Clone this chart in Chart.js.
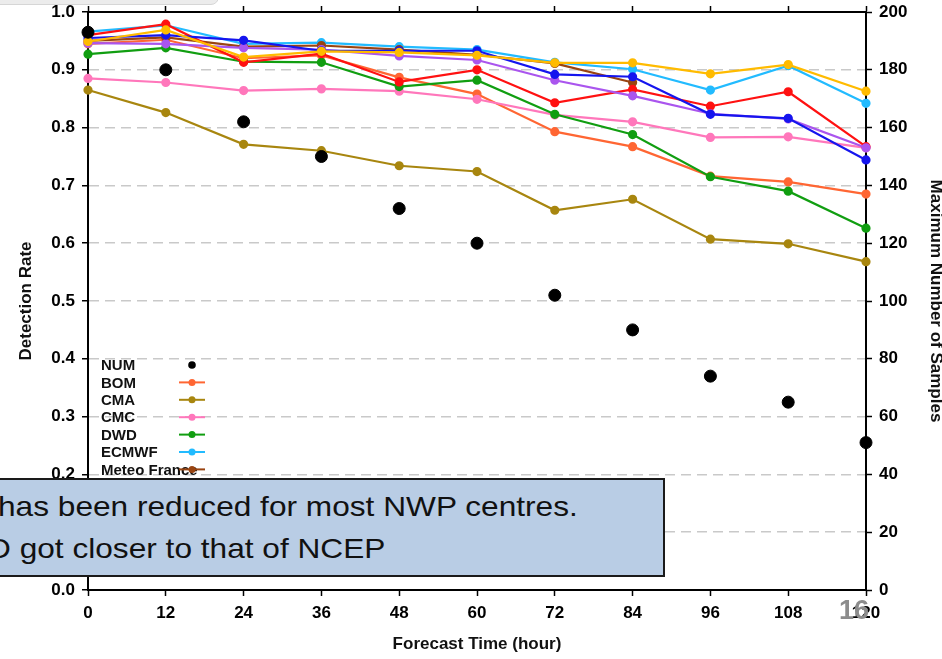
<!DOCTYPE html>
<html>
<head>
<meta charset="utf-8">
<script src="https://cdn.jsdelivr.net/npm/chart.js@4.4.1/dist/chart.umd.min.js"></script>
<style>
  html, body { margin: 0; padding: 0; background: #ffffff; }
  #wrap { position: relative; width: 942px; height: 659px; overflow: hidden; background: #ffffff; }
  #chart { position: absolute; left: 0; top: 0; }
  .topbar { position: absolute; left: -10px; top: -9px; width: 227px; height: 12px;
            background: #ececec; border: 1px solid #d6d6d6; border-radius: 0 0 8px 0; }
  .note { position: absolute; left: -20px; top: 478px; width: 681px; height: 95px;
          background: #b9cde5; border: 2px solid #1a1a1a; }
  .note span { position: absolute; white-space: nowrap; font-family: "Liberation Sans", Arial, sans-serif;
               font-size: 28px; color: #111; transform: scaleX(1.13); transform-origin: 0 0; line-height: 1; }
  .pageno { position: absolute; left: 839px; top: 597px; font-family: "Liberation Sans", Arial, sans-serif;
            font-weight: bold; font-size: 27px; color: #8c8c8c; line-height: 1; }
</style>
</head>
<body>
<div id="wrap">
  <canvas id="chart" width="942" height="659"></canvas>
  <div class="topbar"></div>
  <div class="note">
    <span style="left:16px; top:13px;">has been reduced for most NWP centres.</span>
    <span style="left:6px; top:55px;">D got closer to that of NCEP</span>
  </div>
  <div class="pageno">16</div>
</div>
<script>
// Forecast lead times (hours)
const hours = ['0', '12', '24', '36', '48', '60', '72', '84', '96', '108', '120'];

// Number of verified samples at each lead time (right axis)
const numSamples = [193, 180, 162, 150, 132, 120, 102, 90, 74, 65, 51];

// Detection rate per NWP centre (left axis)
const bom         = [0.945, 0.952, 0.920, 0.925, 0.887, 0.858, 0.793, 0.767, 0.716, 0.706, 0.685];
const cma         = [0.865, 0.826, 0.771, 0.760, 0.734, 0.724, 0.657, 0.676, 0.607, 0.599, 0.568];
const cmc         = [0.885, 0.878, 0.864, 0.867, 0.863, 0.849, 0.822, 0.810, 0.783, 0.784, 0.765];
const dwd         = [0.927, 0.938, 0.914, 0.913, 0.871, 0.882, 0.823, 0.788, 0.715, 0.690, 0.626];
const ecmwf       = [0.966, 0.977, 0.945, 0.947, 0.940, 0.935, 0.913, 0.901, 0.865, 0.907, 0.842];
const meteoFrance = [0.950, 0.956, 0.940, 0.942, 0.935, 0.926, 0.911, 0.878, null, null, null];
const jma         = [0.960, 0.979, 0.913, 0.928, 0.879, 0.900, 0.843, 0.866, 0.837, 0.862, 0.767];
const kma         = [0.946, 0.945, 0.938, 0.935, 0.924, 0.917, 0.882, 0.855, 0.824, 0.815, 0.765];
const ncep        = [0.955, 0.960, 0.951, 0.933, 0.933, 0.933, 0.892, 0.888, 0.823, 0.816, 0.744];
const ukmo        = [0.949, 0.969, 0.922, 0.932, 0.930, 0.925, 0.912, 0.912, 0.893, 0.909, 0.863];

// Axis tick ranges
const rateTicks = { min: 0, max: 1, step: 0.1 };
const sampleTicks = { min: 0, max: 200, step: 20 };

const FONT = '"Liberation Sans", Arial, Helvetica, sans-serif';

const centres = [
  { label: 'BOM',          data: bom,         color: '#ff6633' },
  { label: 'CMA',          data: cma,         color: '#a8860f' },
  { label: 'CMC',          data: cmc,         color: '#ff77bb' },
  { label: 'DWD',          data: dwd,         color: '#119e11' },
  { label: 'ECMWF',        data: ecmwf,       color: '#22bbff' },
  { label: 'Meteo France', data: meteoFrance, color: '#994411' },
  { label: 'JMA',          data: jma,         color: '#ff1111' },
  { label: 'KMA',          data: kma,         color: '#aa55ee' },
  { label: 'NCEP',         data: ncep,        color: '#1515ee' },
  { label: 'UKMO',         data: ukmo,        color: '#ffbb00' }
];

const datasets = [
  {
    label: 'NUM',
    data: numSamples,
    yAxisID: 'y2',
    showLine: false,
    pointRadius: 6,
    pointBackgroundColor: '#000',
    pointBorderColor: '#000',
    borderColor: '#000',
    backgroundColor: '#000',
    order: 0
  }
].concat(centres.map((c, i) => ({
  label: c.label,
  data: c.data,
  yAxisID: 'y',
  borderColor: c.color,
  backgroundColor: c.color,
  pointBackgroundColor: c.color,
  pointBorderColor: c.color,
  pointRadius: 3.5,
  borderWidth: 2.2,
  tension: 0,
  spanGaps: false,
  order: centres.length - i
})));

// Legend drawn inside the plot area, lower left
const insideLegend = {
  id: 'insideLegend',
  afterDatasetsDraw(chart) {
    const ctx = chart.ctx;
    const area = chart.chartArea;
    const x0 = area.left + 13;
    const y0 = area.top + 353;
    const rowH = 17.4;
    const mx = area.left + 104;
    ctx.save();
    ctx.font = 'bold 15px ' + FONT;
    ctx.textBaseline = 'middle';
    ctx.textAlign = 'left';
    chart.data.datasets.forEach((ds, i) => {
      const y = y0 + i * rowH;
      ctx.fillStyle = '#111';
      ctx.fillText(ds.label, x0, y + 1);
      if (ds.showLine === false) {
        ctx.fillStyle = '#000';
        ctx.beginPath();
        ctx.arc(mx, y, 3.8, 0, Math.PI * 2);
        ctx.fill();
      } else {
        ctx.strokeStyle = ds.borderColor;
        ctx.lineWidth = 2;
        ctx.beginPath();
        ctx.moveTo(mx - 13, y);
        ctx.lineTo(mx + 13, y);
        ctx.stroke();
        ctx.fillStyle = ds.borderColor;
        ctx.beginPath();
        ctx.arc(mx, y, 3.5, 0, Math.PI * 2);
        ctx.fill();
      }
    });
    ctx.restore();
  }
};

const tickFont = { family: FONT, size: 17, weight: 'bold' };
const titleFont = { family: FONT, size: 17, weight: 'bold' };

new Chart(document.getElementById('chart'), {
  type: 'line',
  data: { labels: hours, datasets: datasets },
  plugins: [insideLegend],
  options: {
    responsive: false,
    animation: false,
    devicePixelRatio: 1,
    layout: { padding: 0 },
    clip: false,
    plugins: { legend: { display: false }, tooltip: { enabled: false } },
    elements: { line: { fill: false } },
    scales: {
      x: {
        type: 'category',
        position: 'bottom',
        offset: false,
        grid: { drawOnChartArea: false, drawTicks: true, tickLength: 6, tickColor: '#000', tickWidth: 1.5 },
        border: { display: true, color: '#000', width: 2 },
        ticks: { color: '#000', font: tickFont, padding: 7, maxRotation: 0, autoSkip: false },
        title: { display: true, text: 'Forecast Time (hour)', color: '#111', font: titleFont, padding: { top: 0, bottom: 4 } },
        afterFit(s) { s.height = 69; s.paddingLeft = 0; s.paddingRight = 0; }
      },
      xTop: {
        type: 'category',
        position: 'top',
        offset: false,
        grid: { drawOnChartArea: false, drawTicks: true, tickLength: 6, tickColor: '#000', tickWidth: 1.5 },
        border: { display: true, color: '#000', width: 2 },
        ticks: { display: false },
        afterFit(s) { s.height = 12; s.paddingLeft = 0; s.paddingRight = 0; }
      },
      y: {
        position: 'left',
        min: rateTicks.min,
        max: rateTicks.max,
        grid: {
          drawOnChartArea: true,
          drawTicks: true,
          tickLength: 6,
          tickColor: '#000',
          tickWidth: 1.5,
          tickBorderDash: [],
          lineWidth: 1.5,
          color: (c) => (c.tick && (c.tick.value <= 0.001 || c.tick.value >= 0.999)) ? 'rgba(0,0,0,0)' : '#c9c9c9'
        },
        border: { display: true, color: '#000', width: 2, dash: [10, 6] },
        ticks: {
          stepSize: rateTicks.step,
          color: '#000',
          font: tickFont,
          padding: 7,
          callback: (v) => Number(v).toFixed(1)
        },
        title: { display: true, text: 'Detection Rate', color: '#111', font: titleFont, padding: { top: 16, bottom: 0 } },
        afterFit(s) { s.width = 88; s.paddingTop = 0; s.paddingBottom = 0; }
      },
      y2: {
        position: 'right',
        min: sampleTicks.min,
        max: sampleTicks.max,
        grid: { drawOnChartArea: false, drawTicks: true, tickLength: 6, tickColor: '#000', tickWidth: 1.5 },
        border: { display: true, color: '#000', width: 2 },
        ticks: { stepSize: sampleTicks.step, color: '#000', font: tickFont, padding: 7 },
        title: { display: true, text: 'Maximum Number of Samples', color: '#111', font: Object.assign({}, titleFont, { lineHeight: 0.8 }), padding: { top: 0, bottom: 0 } },
        afterFit(s) { s.width = 76; s.paddingTop = 0; s.paddingBottom = 0; }
      }
    }
  }
});
</script>
</body>
</html>
